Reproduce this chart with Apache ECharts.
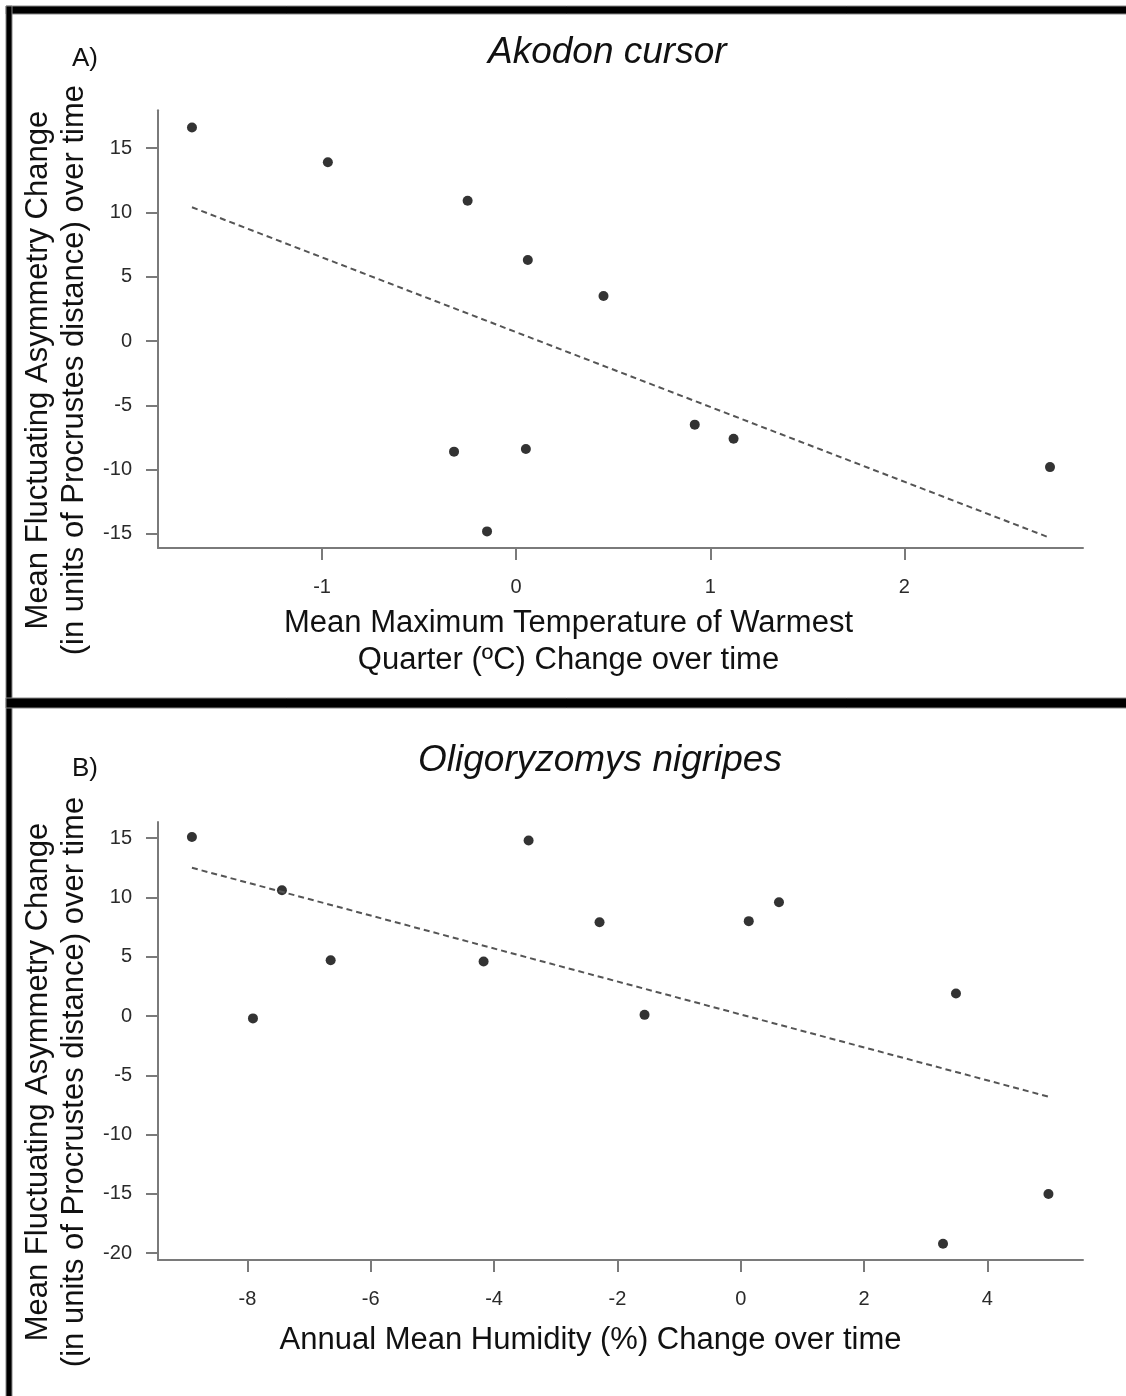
<!DOCTYPE html>
<html>
<head>
<meta charset="utf-8">
<script src="https://cdn.jsdelivr.net/npm/echarts@6/dist/echarts.min.js"></script>
<style>
  html, body { margin: 0; padding: 0; background: #fff; }
  #chart { width: 1126px; height: 1396px; }
</style>
</head>
<body>
<div id="chart"></div>
<script>
// panel A: Akodon cursor
const tempX = [-1.67, -0.97, -0.25, 0.06, 0.45, -0.32, 0.05, -0.15, 0.92, 1.12, 2.75]
const tempY = [16.6, 13.9, 10.9, 6.3, 3.5, -8.6, -8.4, -14.8, -6.5, -7.6, -9.8]
const tempFitX = [-1.67, 2.75]
const tempFitY = [10.4, -15.3]
const tempXTicks = [-1, 0, 1, 2]
const tempYTicks = [-15, -10, -5, 0, 5, 10, 15]

// panel B: Oligoryzomys nigripes
const humX = [-8.9, -7.44, -7.91, -6.65, -4.17, -3.44, -2.29, -1.56, 0.13, 0.62, 3.49, 3.28, 4.99]
const humY = [15.1, 10.6, -0.2, 4.7, 4.6, 14.8, 7.9, 0.1, 8.0, 9.6, 1.9, -19.2, -15.0]
const humFitX = [-8.9, 4.99]
const humFitY = [12.5, -6.8]
const humXTicks = [-8, -6, -4, -2, 0, 2, 4]
const humYTicks = [-20, -15, -10, -5, 0, 5, 10, 15]

const font = 'Liberation Sans, Arial, sans-serif'
const yName = 'Mean Fluctuating Asymmetry Change\n(in units of Procrustes distance) over time'

const pairs = (xs, ys) => xs.map((x, i) => [x, ys[i]])

function xAxisOf(idx, min, max, ticks, name, gap, pad) {
  return {
    type: 'value', gridIndex: idx, min: min, max: max,
    splitLine: { show: false },
    axisLine: { onZero: false, lineStyle: { color: '#7a7a7a', width: 2 } },
    axisTick: { customValues: ticks, length: 12, lineStyle: { color: '#7a7a7a', width: 2 } },
    axisLabel: { customValues: ticks, margin: 29, fontSize: 20, color: '#2a2a2a', fontFamily: font },
    name: name, nameLocation: 'middle', nameGap: gap,
    nameTextStyle: { fontSize: 31, color: '#111', fontFamily: font, lineHeight: 37, padding: pad }
  }
}

function yAxisOf(idx, min, max, ticks) {
  return {
    type: 'value', gridIndex: idx, min: min, max: max,
    splitLine: { show: false },
    axisLine: { onZero: false, lineStyle: { color: '#7a7a7a', width: 2 } },
    axisTick: { customValues: ticks, length: 12, lineStyle: { color: '#7a7a7a', width: 2 } },
    axisLabel: { customValues: ticks, margin: 26, fontSize: 20, color: '#2a2a2a', fontFamily: font },
    name: yName, nameLocation: 'middle', nameRotate: 90, nameGap: 60,
    nameTextStyle: { fontSize: 31, color: '#111', fontFamily: font, lineHeight: 36, padding: [0, 82, 0, 0] }
  }
}

const dots = { symbol: 'circle', symbolSize: 10, itemStyle: { color: '#000' } }
const fit = { showSymbol: false, symbol: 'none', lineStyle: { color: '#555', width: 2, type: [6, 4] } }

const chart = echarts.init(document.getElementById('chart'))
chart.setOption({
  animation: false,
  backgroundColor: '#fff',
  title: [
    { text: 'Akodon cursor', left: 483, top: 29, textStyle: { fontSize: 37, fontStyle: 'italic', fontWeight: 'normal', color: '#111', fontFamily: font } },
    { text: 'A)', left: 67, top: 41, textStyle: { fontSize: 26, fontWeight: 'normal', color: '#111', fontFamily: font } },
    { text: 'Oligoryzomys nigripes', left: 413, top: 737, textStyle: { fontSize: 37, fontStyle: 'italic', fontWeight: 'normal', color: '#111', fontFamily: font } },
    { text: 'B)', left: 67, top: 751, textStyle: { fontSize: 26, fontWeight: 'normal', color: '#111', fontFamily: font } }
  ],
  grid: [
    { left: 158, top: 108, width: 925, height: 440 },
    { left: 158, top: 822, width: 925, height: 438 }
  ],
  xAxis: [
    xAxisOf(0, -1.845, 2.92, tempXTicks, 'Mean Maximum Temperature of Warmest\nQuarter (ºC) Change over time', 57, [0, 104, 0, 0]),
    xAxisOf(1, -9.45, 5.55, humXTicks, 'Annual Mean Humidity (%) Change over time', 62, [0, 60, 0, 0])
  ],
  yAxis: [
    yAxisOf(0, -16.09, 17.94, tempYTicks),
    yAxisOf(1, -20.57, 16.36, humYTicks)
  ],
  series: [
    Object.assign({ type: 'line', xAxisIndex: 0, yAxisIndex: 0, data: pairs(tempFitX, tempFitY) }, fit),
    Object.assign({ type: 'scatter', xAxisIndex: 0, yAxisIndex: 0, data: pairs(tempX, tempY) }, dots),
    Object.assign({ type: 'line', xAxisIndex: 1, yAxisIndex: 1, data: pairs(humFitX, humFitY) }, fit),
    Object.assign({ type: 'scatter', xAxisIndex: 1, yAxisIndex: 1, data: pairs(humX, humY) }, dots)
  ],
  graphic: [
    // panel frames
    { type: 'rect', shape: { x: 6, y: 6, width: 1130, height: 8 }, style: { fill: '#000', stroke: '#888', lineWidth: 1 } },
    { type: 'rect', shape: { x: 6, y: 6, width: 6, height: 1400 }, style: { fill: '#000', stroke: '#888', lineWidth: 1 } },
    { type: 'rect', shape: { x: 6, y: 698, width: 1130, height: 10 }, style: { fill: '#000', stroke: '#888', lineWidth: 1 } }
  ]
})
</script>
</body>
</html>
